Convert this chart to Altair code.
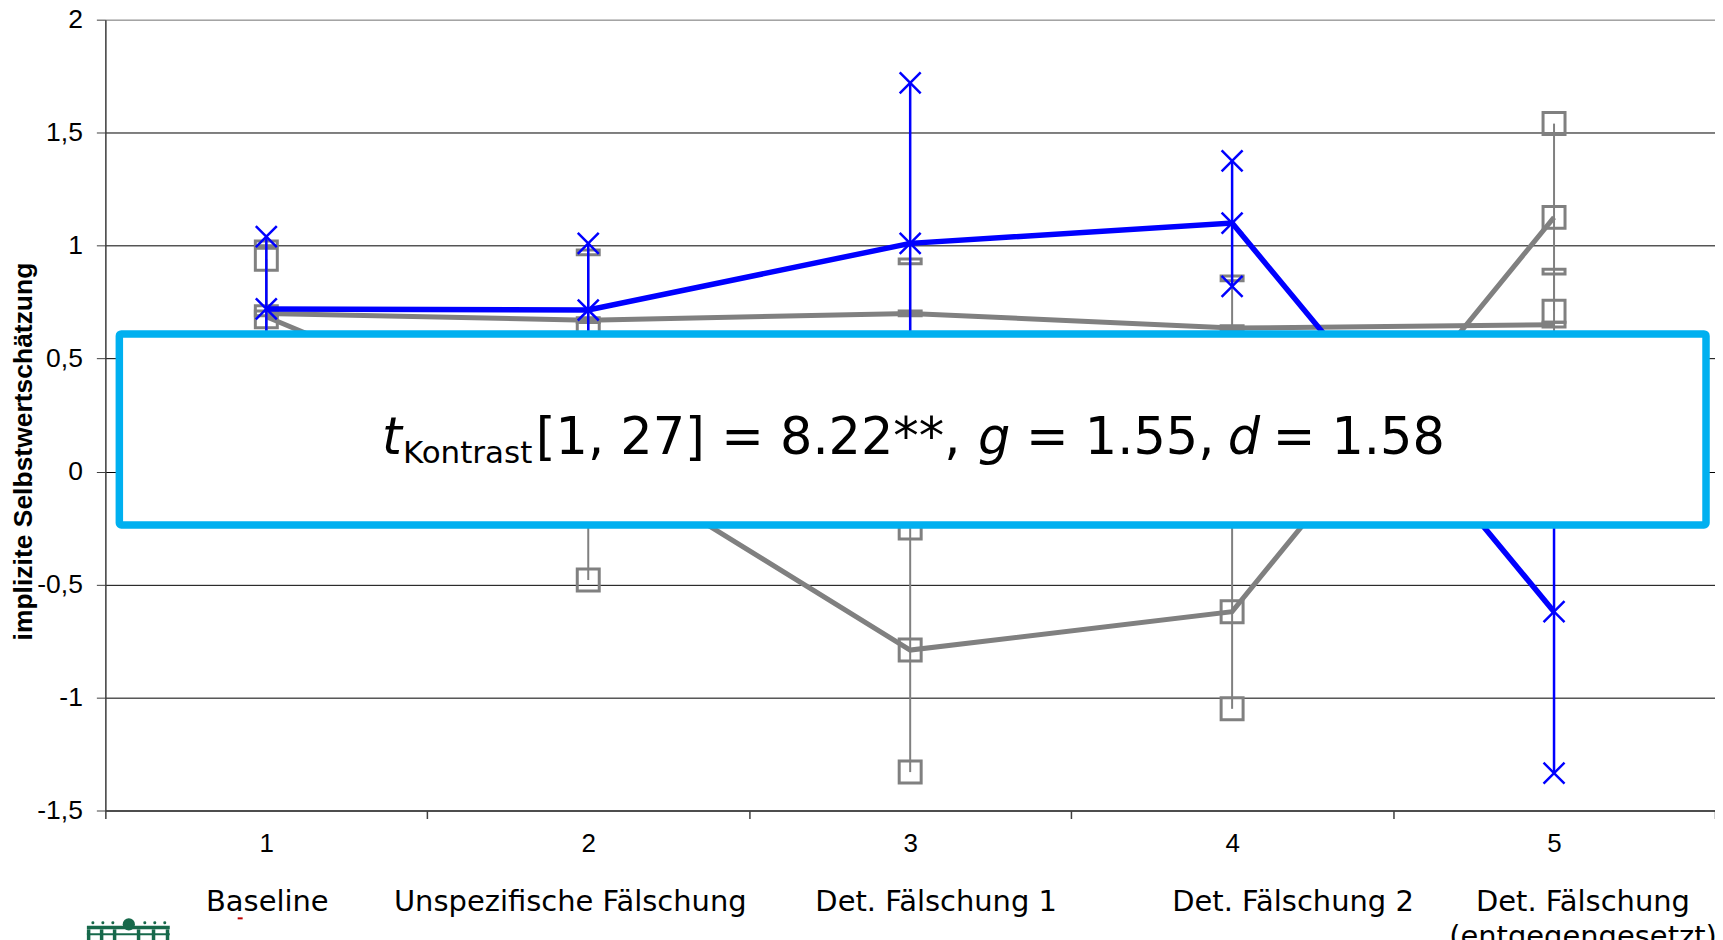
import altair as alt
import pandas as pd

# ---------------- data ----------------
groups = [1, 2, 3, 4, 5]
group_names = [
    "Baseline",
    "Unspezifische Fälschung",
    "Det. Fälschung 1",
    "Det. Fälschung 2",
    "Det. Fälschung\n(entgegengesetzt)",
]

# blue series (X markers)
blue_mean = [0.72, 0.715, 1.01, 1.10, -0.62]
blue_upper = [1.04, 1.01, 1.72, 1.375, 0.09]
blue_lower = [0.40, 0.42, 0.30, 0.82, -1.335]

# grey series with square markers
grey_b_mean = [0.685, 0.09, -0.79, -0.62, 1.125]
grey_b_upper = [0.94, 0.62, -0.25, -0.19, 1.54]
grey_b_lower = [0.43, -0.48, -1.33, -1.05, 0.71]

# grey series with dash markers
grey_a_mean = [0.70, 0.67, 0.70, 0.635, 0.65]
grey_a_upper = [1.01, 0.97, 0.93, 0.855, 0.885]
grey_a_lower = [0.39, 0.37, 0.47, 0.415, 0.415]

y_ticks = [-1.5, -1, -0.5, 0, 0.5, 1, 1.5, 2]
y_title = "implizite Selbstwertschätzung"

# statistic annotation, split by text style
stat_t = "t"
stat_sub = "Kontrast"
stat_part1 = "[1, 27] = 8.22**,"
stat_g = "g"
stat_part2 = "= 1.55,"
stat_d = "d"
stat_part3 = "= 1.58"

# ---------------- layout constants ----------------
W, H = 1612, 792
BLUE = "#0000FF"
GREY = "#808080"
CYAN = "#00B0F0"
LOGO = "#17694B"
label_dx = [1, -18, 26, 61, 29]
X_MARK = "M-1,-1L1,1M-1,1L1,-1"
DASH_MARK = "M-1,-0.22L1,-0.22L1,0.22L-1,0.22Z"

# ---------------- tables ----------------
rows = []
for name, m, u, l in [
    ("blue", blue_mean, blue_upper, blue_lower),
    ("grey_b", grey_b_mean, grey_b_upper, grey_b_lower),
    ("grey_a", grey_a_mean, grey_a_upper, grey_a_lower),
]:
    for g, mv, uv, lv in zip(groups, m, u, l):
        rows.append({"series": name, "group": g, "mean": mv, "upper": uv, "lower": lv})
df = pd.DataFrame(rows)
pts = df.melt(id_vars=["series", "group"], value_vars=["mean", "upper", "lower"],
              var_name="kind", value_name="value")

xscale = alt.Scale(type="band", domain=groups, paddingInner=0, paddingOuter=0)
yscale = alt.Scale(domain=[-1.5, 2], nice=False, zero=False)

x_axis = alt.Axis(
    title=None, labelAngle=0, grid=False, tickBand="extent", tickSize=8,
    labelFont="Liberation Sans", labelFontSize=26, labelPadding=12, labelColor="black",
    domainColor="#404040", tickColor="#404040", domainWidth=1.5, tickWidth=1.5,
)
y_axis = alt.Axis(
    values=y_ticks, labelExpr="replace(toString(datum.value), '.', ',')",
    grid=True, gridColor=alt.condition("datum.value == 2", alt.value(GREY), alt.value("black")),
    gridWidth=1, tickSize=9, tickColor="#404040", domainColor="#404040", domainWidth=1.5,
    labelFont="Liberation Sans", labelFontSize=26.5, labelPadding=14, labelColor="black",
    title=y_title, titleFont="Liberation Sans", titleFontWeight="bold", titleFontSize=26.5,
    titleColor="black", titleAngle=270, titleX=-81.5, titleY=432,
    titleAlign="center", titleBaseline="middle",
)

x_enc = alt.X("group:O", scale=xscale, axis=x_axis)


def y_enc(field):
    return alt.Y(f"{field}:Q", scale=yscale, axis=y_axis)


base = alt.Chart(df)
pbase = alt.Chart(pts)

grey_rules = base.transform_filter("datum.series != 'blue'").mark_rule(
    color=GREY, strokeWidth=2).encode(x=x_enc, y=y_enc("lower"), y2="upper")
grey_b_line = base.transform_filter("datum.series == 'grey_b'").mark_line(
    color=GREY, strokeWidth=5).encode(x=x_enc, y=y_enc("mean"))
grey_a_line = base.transform_filter("datum.series == 'grey_a'").mark_line(
    color=GREY, strokeWidth=5).encode(x=x_enc, y=y_enc("mean"))
grey_b_pts = pbase.transform_filter("datum.series == 'grey_b'").mark_point(
    shape="square", size=484, filled=False, color=GREY, strokeWidth=3, opacity=1
).encode(x=x_enc, y=y_enc("value"))
grey_a_pts = pbase.transform_filter("datum.series == 'grey_a'").mark_point(
    shape=DASH_MARK, size=484, filled=False, color=GREY, strokeWidth=3, opacity=1
).encode(x=x_enc, y=y_enc("value"))
blue_rules = base.transform_filter("datum.series == 'blue'").mark_rule(
    color=BLUE, strokeWidth=2.5).encode(x=x_enc, y=y_enc("lower"), y2="upper")
blue_line = base.transform_filter("datum.series == 'blue'").mark_line(
    color=BLUE, strokeWidth=5.5).encode(x=x_enc, y=y_enc("mean"))
blue_pts = pbase.transform_filter("datum.series == 'blue'").mark_point(
    shape=X_MARK, size=441, filled=False, color=BLUE, strokeWidth=2.5, opacity=1
).encode(x=x_enc, y=y_enc("value"))

one = alt.Chart(pd.DataFrame({"a": [0]}))
box = one.mark_rect(fill="white", stroke=CYAN, strokeWidth=7.5, cornerRadius=2).encode(
    x=alt.value(14), x2=alt.value(1603), y=alt.value(314.7), y2=alt.value(506))

TB = 435
FS = 51
txt_kw = dict(align="left", baseline="alphabetic", font="DejaVu Sans", color="black")
stat_layers = [
    one.mark_text(fontSize=FS, fontStyle="italic", **txt_kw).encode(
        x=alt.value(277), y=alt.value(TB), text=alt.value(stat_t)),
    one.mark_text(fontSize=31, **txt_kw).encode(
        x=alt.value(298), y=alt.value(TB + 9), text=alt.value(stat_sub)),
    one.mark_text(fontSize=FS, **txt_kw).encode(
        x=alt.value(431), y=alt.value(TB), text=alt.value(stat_part1)),
    one.mark_text(fontSize=FS, fontStyle="italic", **txt_kw).encode(
        x=alt.value(874), y=alt.value(TB), text=alt.value(stat_g)),
    one.mark_text(fontSize=FS, **txt_kw).encode(
        x=alt.value(922), y=alt.value(TB), text=alt.value(stat_part2)),
    one.mark_text(fontSize=FS, fontStyle="italic", **txt_kw).encode(
        x=alt.value(1124), y=alt.value(TB), text=alt.value(stat_d)),
    one.mark_text(fontSize=FS, **txt_kw).encode(
        x=alt.value(1169), y=alt.value(TB), text=alt.value(stat_part3)),
]

name_df = pd.DataFrame({"group": groups, "name": group_names})
name_layers = []
for g, dx in zip(groups, label_dx):
    name_layers.append(
        alt.Chart(name_df).transform_filter(f"datum.group == {g}").mark_text(
            dx=dx, fontSize=29, font="DejaVu Sans", baseline="alphabetic",
            align="center", lineBreak="\n", lineHeight=35, color="black"
        ).encode(x=x_enc, y=alt.value(893), text="name:N")
    )

# small logo fragment at the bottom-left (decoration, pixel geometry)
logo_layers = [
    one.mark_rect(color=LOGO).encode(x=alt.value(-18.5), x2=alt.value(64.5),
                                     y=alt.value(907.5), y2=alt.value(911)),
    one.mark_point(shape="circle", filled=True, size=150, color=LOGO, opacity=1).encode(
        x=alt.value(23.5), y=alt.value(906)),
]
for px in [-18.5, -5.5, 7.5, 31.5, 46.5, 60.5]:
    logo_layers.append(one.mark_rect(color=LOGO).encode(
        x=alt.value(px), x2=alt.value(px + 3.5), y=alt.value(911), y2=alt.value(925)))
logo_layers.append(one.mark_rect(color=LOGO).encode(
    x=alt.value(-18.5), x2=alt.value(64.5), y=alt.value(915), y2=alt.value(917)))
for px in [-12.5, -2.5, 7.5, 39.5, 49.5, 59.5]:
    logo_layers.append(one.mark_point(shape="circle", filled=True, size=9, color=LOGO,
                                      opacity=1).encode(x=alt.value(px), y=alt.value(904.5)))
spell_mark = one.mark_rule(color="#C00000", strokeWidth=2).encode(
    x=alt.value(132.5), x2=alt.value(137.5), y=alt.value(900))

chart = alt.layer(
    grey_rules, grey_b_line, grey_a_line, grey_b_pts, grey_a_pts,
    blue_rules, blue_line, blue_pts, box, *stat_layers, *name_layers,
    *logo_layers, spell_mark,
).properties(
    width=W, height=H,
    autosize=alt.AutoSizeParams(type="none"),
    padding={"left": 97.5, "top": 11, "right": 0, "bottom": 129},
).configure_view(stroke=GREY, strokeWidth=2).configure(background="white")

chart.save("out.html", embed_options={"renderer": "svg", "actions": False})
